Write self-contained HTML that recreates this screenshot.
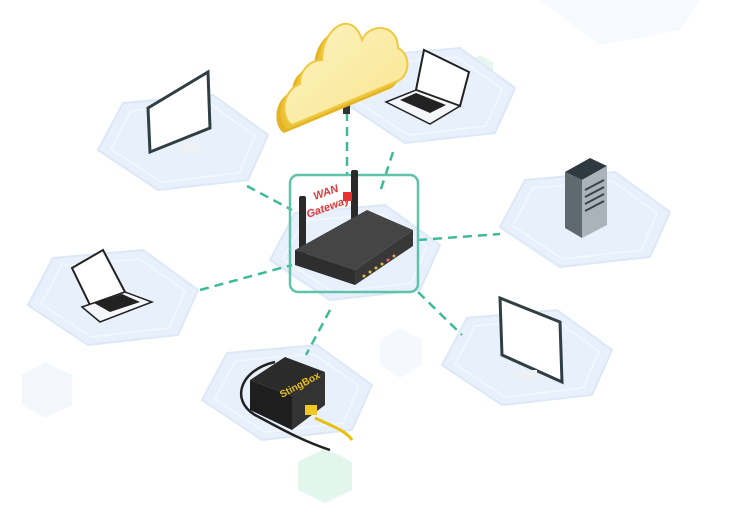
<!DOCTYPE html>
<html><head><meta charset="utf-8"><style>
html,body{margin:0;padding:0;background:#fff;}
svg{display:block;}
text{font-family:"Liberation Sans",sans-serif;}
</style></head><body>
<svg width="738" height="514" viewBox="0 0 738 514" xmlns="http://www.w3.org/2000/svg">
<defs>
<linearGradient id="cl" x1="0" y1="0" x2="1" y2="1"><stop offset="0" stop-color="#fdf3c0"/><stop offset="1" stop-color="#f8e590"/></linearGradient>
<g id="hex"><polygon points="-85,5 -60,-42 30,-50 85,-10 65,35 -25,45" fill="#e8f0fb" stroke="#dde8f7" stroke-width="2"/><polygon points="-72,4 -52,-34 27,-41 72,-9 56,28 -22,37" fill="none" stroke="#f4f8fe" stroke-width="1.5"/></g>
<path id="cloud" d="M292,125 C280,118 282,90 300,84 C300,70 310,60 322,60 C322,28 352,8 362,40 C370,22 398,24 398,48 C412,55 410,78 395,82 L292,125 Z"/>
</defs>
<polygon points="540,0 700,0 680,30 600,45" fill="#f6f9fd"/>
<polygon points="465,62 480,55 493,62 493,78 480,85 465,78" fill="#e6f6ef"/>
<polygon points="22,375 45,362 72,375 72,405 45,418 22,405" fill="#f3f7fc"/>
<polygon points="380,340 400,328 422,340 422,365 400,378 380,365" fill="#f5f8fd"/>
<polygon points="298,462 325,448 352,462 352,490 325,503 298,490" fill="#e3f6ee"/>

<use href="#hex" x="183" y="145"/>
<use href="#hex" x="430" y="98"/>
<use href="#hex" x="585" y="222"/>
<use href="#hex" x="113" y="300"/>
<use href="#hex" x="355" y="255"/>
<use href="#hex" x="527" y="360"/>
<use href="#hex" x="287" y="395"/>

<g stroke="#3dba98" stroke-width="2.5" stroke-dasharray="9,6" fill="none">
<line x1="247" y1="186" x2="292" y2="210"/>
<line x1="200" y1="290" x2="292" y2="265"/>
<line x1="347" y1="112" x2="347" y2="176"/>
<line x1="393" y1="152" x2="380" y2="192"/>
<line x1="418" y1="240" x2="500" y2="234"/>
<line x1="418" y1="292" x2="462" y2="335"/>
<line x1="330" y1="310" x2="306" y2="355"/>
</g>
<rect x="290" y="175" width="128" height="117" rx="8" fill="none" stroke="#5fc3aa" stroke-width="2.5"/>

<!-- router -->
<rect x="299" y="196" width="7" height="62" rx="2" fill="#2a2a2a"/>
<rect x="351" y="170" width="7" height="60" rx="2" fill="#2a2a2a"/>
<polygon points="295,250 367,210 413,230 355,270" fill="#454545"/>
<polygon points="295,250 355,270 355,285 295,265" fill="#2e2e2e"/>
<polygon points="355,270 413,230 413,246 355,285" fill="#383838"/>
<g fill="#e0c040"><circle cx="364" cy="276" r="1.5"/><circle cx="370" cy="272" r="1.5"/><circle cx="376" cy="268" r="1.5"/><circle cx="382" cy="264" r="1.5"/></g>
<circle cx="388" cy="260" r="1.5" fill="#f06060"/><circle cx="394" cy="256" r="1.5" fill="#f0a040"/>
<rect x="343" y="192" width="9" height="9" fill="#e83030"/>
<text x="315" y="200" font-size="11" font-weight="bold" font-style="italic" fill="#e03a3a" transform="rotate(-20 315 200)">WAN</text>
<text x="308" y="218" font-size="11" font-weight="bold" font-style="italic" fill="#e03a3a" transform="rotate(-20 308 218)">Gateway</text>

<!-- cloud -->
<rect x="343" y="100" width="7" height="14" fill="#333"/>
<use href="#cloud" transform="translate(-8,8)" fill="#e3b324"/>
<use href="#cloud" transform="translate(-4,4)" fill="#ebc033"/>
<use href="#cloud" fill="url(#cl)" stroke="#f0c940" stroke-width="2"/>

<!-- top laptop -->
<polygon points="416,90 424,50 469,72 460,106" fill="#fff" stroke="#222" stroke-width="2"/>
<polygon points="386,102 416,90 460,106 430,124" fill="#f4f6fa" stroke="#222" stroke-width="1.5"/>
<polygon points="400,100 416,93 446,105 430,113" fill="#222"/>

<!-- top-left monitor -->
<polygon points="148,108 208,72 210,128 150,152" fill="#fff" stroke="#2f3f44" stroke-width="3"/>
<rect x="178" y="143" width="22" height="10" fill="#eef1f4"/>

<!-- server -->
<polygon points="565,172 590,158 607,166 582,180" fill="#2f3a40"/>
<polygon points="565,172 582,180 582,238 565,228" fill="#5f6a70"/>
<polygon points="582,180 607,166 607,225 582,238" fill="#a9b3b9"/>
<g stroke="#3a4448" stroke-width="2"><line x1="585" y1="190" x2="604" y2="180"/><line x1="585" y1="197" x2="604" y2="187"/><line x1="585" y1="204" x2="604" y2="194"/><line x1="585" y1="211" x2="604" y2="201"/></g>

<!-- left laptop -->
<polygon points="72,268 103,250 125,292 90,305" fill="#fff" stroke="#222" stroke-width="2"/>
<polygon points="82,307 125,292 152,302 100,322" fill="#f4f6fa" stroke="#222" stroke-width="1.5"/>
<polygon points="94,303 122,294 140,302 110,312" fill="#222"/>

<!-- right monitor -->
<polygon points="500,298 560,322 562,382 502,355" fill="#fff" stroke="#2f3f44" stroke-width="3"/>
<rect x="515" y="370" width="22" height="10" fill="#eef1f4"/>

<!-- stingbox -->
<path d="M275,362 C240,370 230,400 255,415 C280,428 300,440 330,450" fill="none" stroke="#222" stroke-width="2.5"/>
<path d="M315,418 C330,425 345,430 352,440" fill="none" stroke="#e8c010" stroke-width="3"/>
<polygon points="250,380 285,357 325,372 292,396" fill="#2b2b2b"/>
<polygon points="250,380 292,396 292,430 250,410" fill="#1e1e1e"/>
<polygon points="292,396 325,372 325,405 292,430" fill="#333"/>
<rect x="305" y="405" width="12" height="10" fill="#f0c820"/>
<text x="282" y="398" font-size="10" font-weight="bold" fill="#e8c020" transform="rotate(-28 282 398)">StingBox</text>
</svg>
</body></html>
